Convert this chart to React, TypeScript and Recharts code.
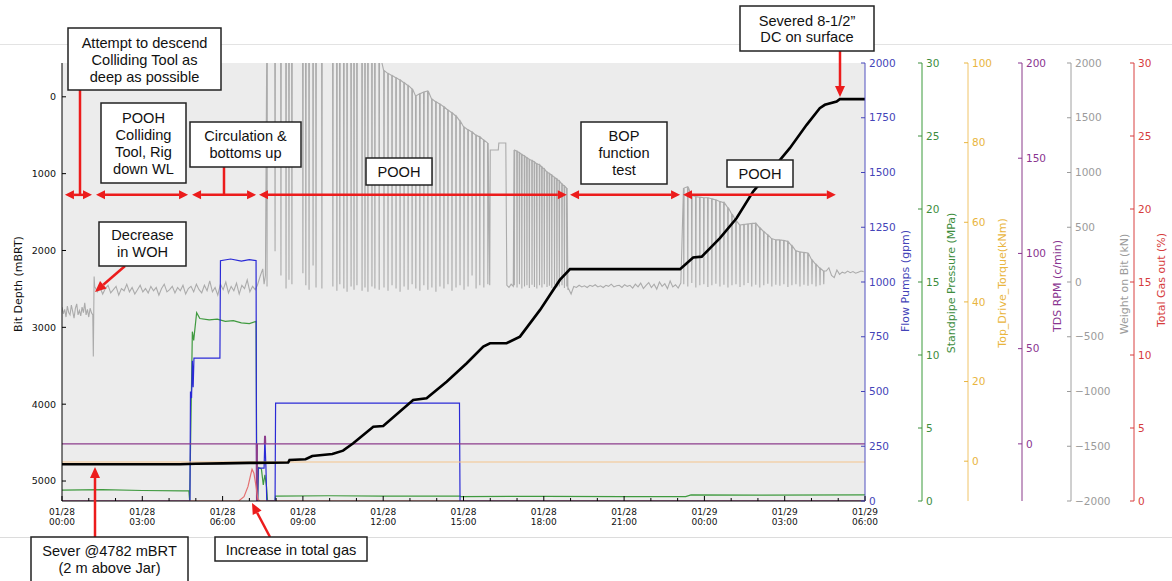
import { CartesianGrid, ComposedChart, Line, ReferenceLine, XAxis, YAxis } from "recharts";

type Pt = { t: number; v: number };

// time axis: hours since 01/28 00:00
const hourTicks = [0, 1, 2, 3, 4, 5, 6, 7, 8, 9, 10, 11, 12, 13, 14, 15, 16, 17, 18, 19, 20, 21, 22, 23, 24, 25, 26, 27, 28, 29, 30];
const labelHours = [0, 3, 6, 9, 12, 15, 18, 21, 24, 27, 30];
const labelDates = ["01/28", "01/28", "01/28", "01/28", "01/28", "01/28", "01/28", "01/28", "01/29", "01/29", "01/29"];
const labelClock = ["00:00", "03:00", "06:00", "09:00", "12:00", "15:00", "18:00", "21:00", "00:00", "03:00", "06:00"];

const depthTicks = [0, 1000, 2000, 3000, 4000, 5000];
const flowTicks = [0, 250, 500, 750, 1000, 1250, 1500, 1750, 2000];
const sppTicks = [0, 5, 10, 15, 20, 25, 30];
const torqueTicks = [0, 20, 40, 60, 80, 100];
const rpmTicks = [0, 50, 100, 150, 200];
const wobTicks = [-2000, -1500, -1000, -500, 0, 500, 1000, 1500, 2000];
const gasTicks = [0, 5, 10, 15, 20, 25, 30];

// bit depth (mBRT)
const depthT = [0, 4.4, 5.0, 6.0, 7.0, 8.45, 8.5, 9.1, 9.35, 10.1, 10.5, 10.88, 11.63, 12.0, 13.12, 13.62, 14.37, 15.12, 15.74, 15.99, 16.61, 17.11, 17.86, 18.6, 18.98, 23.09, 23.34, 23.58, 23.9, 24.58, 25.2, 25.82, 26.57, 27.19, 27.82, 28.31, 28.5, 28.94, 29.06, 30];
const depthV = [4782, 4782, 4776, 4770, 4764, 4760, 4727, 4717, 4674, 4648, 4605, 4509, 4293, 4284, 3945, 3923, 3707, 3467, 3251, 3207, 3207, 3121, 2773, 2383, 2243, 2243, 2165, 2090, 2080, 1840, 1580, 1233, 928, 668, 365, 147, 104, 61, 30, 30];

// flow pumps (gpm)
const flowT = [0, 4.78, 4.8, 4.84, 4.87, 4.9, 4.93, 5.9, 5.92, 6.3, 6.7, 7.0, 7.25, 7.27, 7.31, 7.33, 7.55, 7.58, 7.62, 7.65, 7.96, 7.98, 14.85, 14.87, 30];
const flowV = [0, 0, 500, 470, 640, 520, 652, 652, 1097, 1105, 1095, 1102, 1098, 0, 0, 150, 150, 290, 150, 0, 0, 447, 447, 0, 0];

// standpipe pressure (MPa)
const sppT = [0, 1.5, 3, 4.5, 4.74, 4.77, 4.87, 4.92, 5.03, 5.15, 5.5, 5.8, 6.1, 6.4, 6.7, 7.0, 7.25, 7.28, 7.31, 7.34, 7.45, 7.52, 7.58, 7.64, 7.68, 7.96, 7.98, 10, 12, 14.87, 14.9, 18, 21, 23.3, 23.5, 26, 30];
const sppV = [0.75, 0.78, 0.72, 0.7, 0.7, 0, 11.6, 11.0, 12.9, 12.5, 12.4, 12.45, 12.3, 12.35, 12.2, 12.15, 12.3, 0, 0, 2.3, 2.2, 1.1, 1.8, 1.0, 0, 0, 0.34, 0.36, 0.33, 0.34, 0.3, 0.32, 0.3, 0.3, 0.42, 0.4, 0.42];

// top drive torque (kNm)
const torqueT = [0, 30];
const torqueV = [-0.2, -0.2];

// TDS RPM (c/min)
const rpmT = [0, 7.26, 7.27, 7.29, 7.3, 7.56, 7.57, 7.6, 7.61, 30];
const rpmV = [0, 0, -30, -30, 0, 0, 4, 4, 0, 0];

// total gas out (%)
const gasT = [0, 6.6, 6.8, 6.95, 7.05, 7.1, 7.17, 7.25, 7.32, 7.4, 30];
const gasV = [0, 0, 0.3, 1.0, 1.8, 2.17, 1.9, 1.0, 0.1, 0, 0];

// weight on bit (kN): noisy stretches, single events and stand connections [time, top, bottom]
const wobNoise = [
  { t0: 0, dt: 0.05, v: [-230, -290, -250, -320, -220, -280, -300, -210, -270, -330, -240, -200, -300, -260, -310, -230, -280, -190, -300, -250, -320, -240, -280, -300] },
  { t0: 1.22, dt: 0.1, v: [-40, -90, -50, -110, -60, -30, -100, -70, -40, -120, -60, -80, -20, -90, -50, -110, -70, -30, -90, -60, -100, -40, -80, -50, -120, -60, -20, -90, -70, -40, -100, -50, -80, -30, -110, -60, -40, -90, -20, -70, -100, -30, -80, 10, -90, -50, -120, -20, -70, 0, -100, -40, -80, -10, -110, -30, -60, 20, -90, -40, -70] },
  { t0: 18.92, dt: 0.1, v: [-60, -110, -40, -50, -30, -45, -35, -50, -30, -40, -25, -45, -35, -50, -30, -40, -20, -45, -35, -30, -50, -25, -40, -30, -55, -20, -45, -10, -60, -30, -5, -50, -20, -65, 0, -40, -15, -60, 10, -45, -25, -55, -10] },
  { t0: 28.55, dt: 0.1, v: [100, 130, 60, 40, 110, 70, 90, 80, 100, 85, 95, 80, 90, 100, 95] },
];
const wobEvents: [number, number][] = [
  [1.17, -680], [1.2, 50],
  [7.3, -30], [7.4, 50], [7.5, 120], [7.55, -20], [7.6, 60],
  [15.98, -30], [16.0, 1205], [16.3, 1205], [16.32, 1270], [16.58, 1270], [16.62, -30], [16.7, -50], [16.78, -20], [16.86, -40],
  [18.9, -70],
];
const wobStands: [number, number, number][] = [
  [7.66, 2100, -40], [7.96, 2100, 280], [8.18, 2100, 60], [8.37, 2100, -60], [8.48, 2100, 20], [8.59, 2100, -20],
  [9.0, 2100, 80], [9.11, 2100, -30], [9.23, 2100, -70], [9.38, 2100, 150], [9.49, 2100, -50], [9.71, 2100, -60],
  [10.12, 2100, -40], [10.27, 2100, -80], [10.38, 2100, -20], [10.53, 2100, -60], [10.65, 2100, -90], [10.8, 2100, -40],
  [10.91, 2100, -70], [11.02, 2100, -30], [11.21, 2100, -80], [11.32, 2100, -50], [11.43, 2100, -90], [11.58, 2100, -40],
  [11.69, 2100, -60], [11.85, 2100, -70],
  [12.03, 1930, -50], [12.18, 1905, -80], [12.33, 1885, -30], [12.48, 1865, -60], [12.63, 1845, -90], [12.78, 1820, -40],
  [12.93, 1795, -70], [13.08, 1765, -20], [13.22, 1700, -60], [13.37, 1720, -80], [13.52, 1735, -30], [13.67, 1745, -70],
  [13.82, 1670, -50], [13.97, 1645, -90], [14.12, 1625, -40], [14.27, 1600, -60], [14.42, 1570, -20], [14.57, 1545, -80],
  [14.72, 1515, -50], [14.87, 1470, -30], [15.02, 1415, -70], [15.17, 1390, -40], [15.32, 1370, 60], [15.47, 1340, -60],
  [15.61, 1325, -30], [15.76, 1295, -50], [15.91, 1270, -20],
  [16.9, 1205, -30], [17.0, 1195, -50], [17.09, 1180, -20], [17.18, 1165, -60], [17.28, 1150, -40], [17.37, 1135, -30],
  [17.46, 1120, -55], [17.56, 1110, -25], [17.65, 1095, -45], [17.74, 1080, -60], [17.84, 1070, -30], [17.93, 1050, -50],
  [18.02, 1030, -20], [18.12, 1005, -45], [18.21, 990, -35], [18.3, 975, -55], [18.4, 955, -25], [18.49, 940, -50],
  [18.58, 920, -40], [18.68, 895, -30], [18.77, 875, -55], [18.86, 858, -40],
  [23.23, 858, -20], [23.38, 870, -40], [23.53, 790, -10], [23.68, 780, -50], [23.83, 775, -30], [23.98, 770, -20],
  [24.13, 770, -45], [24.28, 760, -30], [24.43, 750, -15], [24.58, 735, -40], [24.73, 725, -25], [24.88, 680, -50],
  [25.03, 620, -30], [25.18, 560, -20], [25.33, 520, -45], [25.48, 525, -30], [25.63, 530, -10], [25.77, 535, -40],
  [25.92, 535, -25], [26.07, 495, -50], [26.22, 460, -30], [26.37, 430, -15], [26.52, 395, -40], [26.67, 385, -25],
  [26.82, 385, -35], [26.97, 380, -20], [27.12, 370, -45], [27.27, 330, -30], [27.42, 285, -20], [27.57, 275, -40],
  [27.72, 270, -25], [27.87, 265, -35], [28.02, 200, -20], [28.17, 160, -40], [28.32, 125, -30], [28.46, 100, -20],
];

// operation phases [start h, end h], drawn at this depth
const phases: [number, number][] = [[0.11, 1.12], [1.27, 4.71], [4.86, 7.25], [7.36, 18.86], [18.98, 23.09], [23.2, 28.91]];
const phaseDepth = 1276;

const zip = (t: number[], v: number[]): Pt[] => t.map((x, i) => ({ t: x, v: v[i] }));

function buildWob(): Pt[] {
  const pts: Pt[] = [];
  wobNoise.forEach((s) => s.v.forEach((v, i) => pts.push({ t: s.t0 + i * s.dt, v })));
  wobEvents.forEach(([t, v]) => pts.push({ t, v }));
  wobStands.forEach(([t, top, bottom]) => {
    pts.push({ t: t - 0.012, v: top }, { t, v: bottom }, { t: t + 0.012, v: top });
  });
  return pts.sort((a, b) => a.t - b.t);
}

const depthData = zip(depthT, depthV);
const flowData = zip(flowT, flowV);
const sppData = zip(sppT, sppV);
const torqueData = zip(torqueT, torqueV);
const rpmData = zip(rpmT, rpmV);
const gasData = zip(gasT, gasV);
const wobData = buildWob();

const TICK_FONT = "DejaVu Sans, sans-serif";
const NOTE_FONT = "Liberation Sans, Arial, sans-serif";
const RED = "#ec1c1c";

const C = {
  flow: { line: "#2a2ad6", axis: "#4444b8" },
  spp: { line: "#3f9a3f", axis: "#3d8d3d" },
  torque: { line: "#f4c38c", axis: "#e9b53e" },
  rpm: { line: "#8c3c8c", axis: "#8a3590" },
  wob: { line: "#ababab", axis: "#9b9b9b" },
  gas: { line: "#e47070", axis: "#d63c3c" },
};

// right-hand axes are laid out in id order, so the ids carry a sort prefix
const AX = { flow: "r1_flow", spp: "r2_spp", torque: "r3_torque", rpm: "r4_rpm", wob: "r5_wob", gas: "r6_gas" };

const fmtMinus = (v: number) => (v < 0 ? `\u2212${-v}` : String(v));

function rightTick(color: string, fmt: (v: number) => string = String) {
  return (p: any) => (
    <g>
      <line x1={p.x - 4} x2={p.x} y1={p.y} y2={p.y} stroke={color} strokeWidth={1} />
      <text x={p.x + 4} y={p.y} dy="0.35em" textAnchor="start" fontSize={10.5} fontFamily={TICK_FONT} fill={color}>
        {fmt(p.payload.value)}
      </text>
    </g>
  );
}

const depthTick = (p: any) => (
  <g>
    <line x1={p.x} x2={p.x + 4} y1={p.y} y2={p.y} stroke="#000" strokeWidth={1} />
    <text x={p.x - 6} y={p.y} dy="0.35em" textAnchor="end" fontSize={9.5} fontFamily={TICK_FONT} fill="#111">
      {p.payload.value}
    </text>
  </g>
);

const bottomTick = (p: any) => {
  const i = labelHours.indexOf(p.payload.value);
  return (
    <g>
      <line x1={p.x} x2={p.x} y1={p.y} y2={p.y - (i >= 0 ? 5 : 3)} stroke="#000" strokeWidth={1} />
      {i >= 0 && (
        <text textAnchor="middle" fontSize={9} fontFamily={TICK_FONT} fill="#111">
          <tspan x={p.x} y={p.y + 14}>{labelDates[i]}</tspan>
          <tspan x={p.x} y={p.y + 24}>{labelClock[i]}</tspan>
        </text>
      )}
    </g>
  );
};

const topTick = (p: any) => {
  const major = labelHours.includes(p.payload.value);
  return <line x1={p.x} x2={p.x} y1={p.y} y2={p.y + (major ? 5 : 3)} stroke="#000" strokeWidth={1} />;
};

function head(x1: number, y1: number, x2: number, y2: number, len = 10, half = 4.5) {
  const L = Math.hypot(x2 - x1, y2 - y1) || 1;
  const ux = (x2 - x1) / L;
  const uy = (y2 - y1) / L;
  const bx = x2 - ux * len;
  const by = y2 - uy * len;
  return { bx, by, pts: `${x2},${y2} ${bx - uy * half},${by + ux * half} ${bx + uy * half},${by - ux * half}` };
}

const phaseShape = (p: any) => {
  const { x1, y1, x2, y2 } = p;
  const a = head(x2, y2, x1, y1, 9, 4.5);
  const b = head(x1, y1, x2, y2, 9, 4.5);
  return (
    <g>
      <line x1={a.bx} y1={y1} x2={b.bx} y2={y2} stroke={RED} strokeWidth={2.5} />
      <polygon points={a.pts} fill={RED} />
      <polygon points={b.pts} fill={RED} />
    </g>
  );
};

const boxes = [
  { x: 68, y: 28, w: 153, h: 62, y0: 48, step: 17, lines: ["Attempt to descend", "Colliding Tool as", "deep as possible"] },
  { x: 101, y: 103, w: 85, h: 80, y0: 123, step: 17, lines: ["POOH", "Colliding", "Tool, Rig", "down WL"] },
  { x: 190, y: 122, w: 111, h: 45, y0: 141, step: 17, lines: ["Circulation &", "bottoms up"] },
  { x: 366, y: 158, w: 66, h: 27, y0: 177, step: 17, lines: ["POOH"] },
  { x: 581, y: 122, w: 86, h: 62, y0: 141, step: 17, lines: ["BOP", "function", "test"] },
  { x: 727, y: 160, w: 66, h: 27, y0: 179, step: 17, lines: ["POOH"] },
  { x: 740, y: 6, w: 134, h: 45, y0: 26, step: 16, lines: ["Severed 8-1/2\u201D", "DC on surface"] },
  { x: 99, y: 222, w: 87, h: 44, y0: 240, step: 17, lines: ["Decrease", "in WOH"] },
  { x: 31, y: 537, w: 157, h: 60, y0: 556, step: 17, lines: ["Sever @4782 mBRT", "(2 m above Jar)"] },
  { x: 215, y: 537, w: 152, h: 24, y0: 555, step: 17, lines: ["Increase in total gas"] },
];

const connectors = [
  { x1: 80, y1: 90, x2: 80, y2: 195, arrow: false },
  { x1: 224, y1: 167, x2: 224, y2: 195, arrow: false },
  { x1: 125, y1: 266, x2: 95, y2: 292, arrow: true },
  { x1: 840, y1: 51, x2: 840, y2: 97, arrow: true },
  { x1: 95, y1: 537, x2: 95, y2: 467, arrow: true },
  { x1: 270, y1: 537, x2: 252, y2: 503, arrow: true },
];

const titles = [
  { text: "Bit Depth (mBRT)", x: 18, y: 284, color: "#111" },
  { text: "Flow Pumps (gpm)", x: 905, y: 281, color: C.flow.axis },
  { text: "Standpipe Pressure (MPa)", x: 951, y: 283, color: C.spp.axis },
  { text: "Top_Drive_Torque(kNm)", x: 1002, y: 283, color: C.torque.axis },
  { text: "TDS RPM (c/min)", x: 1057, y: 286, color: C.rpm.axis },
  { text: "Weight on Bit (kN)", x: 1124, y: 284, color: C.wob.axis },
  { text: "Total Gas out (%)", x: 1161, y: 280, color: C.gas.axis },
];

function Overlay() {
  return (
    <svg width={1172} height={581} style={{ position: "absolute", left: 0, top: 0, pointerEvents: "none" }}>
      <line x1={0} x2={1172} y1={44.5} y2={44.5} stroke="#e3e3e3" strokeWidth={1} />
      <line x1={0} x2={1172} y1={537.5} y2={537.5} stroke="#dcdcdc" strokeWidth={1} />
      {titles.map((t) => (
        <text
          key={t.text}
          transform={`translate(${t.x},${t.y}) rotate(-90)`}
          textAnchor="middle"
          dominantBaseline="central"
          fontSize={11}
          fontFamily={TICK_FONT}
          fill={t.color}
        >
          {t.text}
        </text>
      ))}
      {connectors.map((c, i) => {
        if (!c.arrow) return <line key={i} x1={c.x1} y1={c.y1} x2={c.x2} y2={c.y2} stroke={RED} strokeWidth={2.5} />;
        const h = head(c.x1, c.y1, c.x2, c.y2, 11, 5);
        return (
          <g key={i}>
            <line x1={c.x1} y1={c.y1} x2={h.bx} y2={h.by} stroke={RED} strokeWidth={2.5} />
            <polygon points={h.pts} fill={RED} />
          </g>
        );
      })}
      {boxes.map((b, i) => (
        <g key={i}>
          <rect x={b.x} y={b.y} width={b.w} height={b.h} fill="#fff" stroke="#222" strokeWidth={1.5} />
          <text textAnchor="middle" fontSize={14.6} fontFamily={NOTE_FONT} fill="#111">
            {b.lines.map((l, j) => (
              <tspan key={j} x={b.x + b.w / 2} y={b.y0 + j * b.step}>
                {l}
              </tspan>
            ))}
          </text>
        </g>
      ))}
    </svg>
  );
}

export default function App() {
  return (
    <div style={{ position: "absolute", left: 0, top: 0, width: 1172, height: 581, background: "#fff", overflow: "hidden" }}>
      <ComposedChart width={1172} height={581} margin={{ top: 63, right: 0, bottom: 40, left: 0 }}>
        <CartesianGrid yAxisId="depth" fill="#ececec" stroke="none" horizontal={false} vertical={false} />
        <XAxis
          type="number"
          dataKey="t"
          domain={[0, 30]}
          allowDataOverflow
          ticks={hourTicks}
          interval={0}
          height={40}
          tickSize={0}
          tickMargin={0}
          tickLine={false}
          tick={bottomTick}
          axisLine={{ stroke: "#000" }}
        />
        <XAxis
          xAxisId="top"
          orientation="top"
          type="number"
          dataKey="t"
          domain={[0, 30]}
          allowDataOverflow
          ticks={hourTicks}
          interval={0}
          height={0}
          tickSize={0}
          tickMargin={0}
          tickLine={false}
          tick={topTick}
          axisLine={{ stroke: "#222" }}
        />
        <YAxis
          yAxisId="depth"
          orientation="left"
          reversed
          domain={[-440, 5260]}
          allowDataOverflow
          ticks={depthTicks}
          interval={0}
          width={62}
          tickSize={0}
          tickMargin={0}
          tickLine={false}
          tick={depthTick}
          axisLine={{ stroke: "#000" }}
        />
        <YAxis yAxisId={AX.flow} orientation="right" domain={[0, 2000]} allowDataOverflow ticks={flowTicks} interval={0} width={57}
          tickSize={0} tickMargin={0} tickLine={false} tick={rightTick(C.flow.axis)} axisLine={{ stroke: "#5050c0" }} />
        <YAxis yAxisId={AX.spp} orientation="right" domain={[0, 30]} allowDataOverflow ticks={sppTicks} interval={0} width={46}
          tickSize={0} tickMargin={0} tickLine={false} tick={rightTick(C.spp.axis)} axisLine={{ stroke: "#3a9a3a" }} />
        <YAxis yAxisId={AX.torque} orientation="right" domain={[-10, 100]} allowDataOverflow ticks={torqueTicks} interval={0} width={54}
          tickSize={0} tickMargin={0} tickLine={false} tick={rightTick(C.torque.axis)} axisLine={{ stroke: "#f0c468" }} />
        <YAxis yAxisId={AX.rpm} orientation="right" domain={[-30, 200]} allowDataOverflow ticks={rpmTicks} interval={0} width={49}
          tickSize={0} tickMargin={0} tickLine={false} tick={rightTick(C.rpm.axis)} axisLine={{ stroke: "#8a3a8a" }} />
        <YAxis yAxisId={AX.wob} orientation="right" domain={[-2000, 2000]} allowDataOverflow ticks={wobTicks} interval={0} width={63}
          tickSize={0} tickMargin={0} tickLine={false} tick={rightTick(C.wob.axis, fmtMinus)} axisLine={{ stroke: "#a0a0a0" }} />
        <YAxis yAxisId={AX.gas} orientation="right" domain={[0, 30]} allowDataOverflow ticks={gasTicks} interval={0} width={38}
          tickSize={0} tickMargin={0} tickLine={false} tick={rightTick(C.gas.axis)} axisLine={{ stroke: "#d84040" }} />

        <Line yAxisId={AX.wob} data={wobData} dataKey="v" type="linear" stroke={C.wob.line} strokeWidth={1.1} dot={false} activeDot={false} isAnimationActive={false} />
        <Line yAxisId={AX.spp} data={sppData} dataKey="v" type="linear" stroke={C.spp.line} strokeWidth={1.2} dot={false} activeDot={false} isAnimationActive={false} />
        <Line yAxisId={AX.flow} data={flowData} dataKey="v" type="linear" stroke={C.flow.line} strokeWidth={1.2} dot={false} activeDot={false} isAnimationActive={false} />
        <Line yAxisId={AX.torque} data={torqueData} dataKey="v" type="linear" stroke={C.torque.line} strokeWidth={1.2} dot={false} activeDot={false} isAnimationActive={false} />
        <Line yAxisId={AX.rpm} data={rpmData} dataKey="v" type="linear" stroke={C.rpm.line} strokeWidth={1.2} dot={false} activeDot={false} isAnimationActive={false} />
        <Line yAxisId={AX.gas} data={gasData} dataKey="v" type="linear" stroke={C.gas.line} strokeWidth={1.2} dot={false} activeDot={false} isAnimationActive={false} />
        <Line yAxisId="depth" data={depthData} dataKey="v" type="linear" stroke="#000" strokeWidth={2.6} dot={false} activeDot={false} isAnimationActive={false} />

        {phases.map(([s, e], i) => (
          <ReferenceLine
            key={i}
            yAxisId="depth"
            segment={[{ x: s, y: phaseDepth }, { x: e, y: phaseDepth }]}
            stroke={RED}
            ifOverflow="visible"
            shape={phaseShape}
          />
        ))}
      </ComposedChart>
      <Overlay />
    </div>
  );
}
